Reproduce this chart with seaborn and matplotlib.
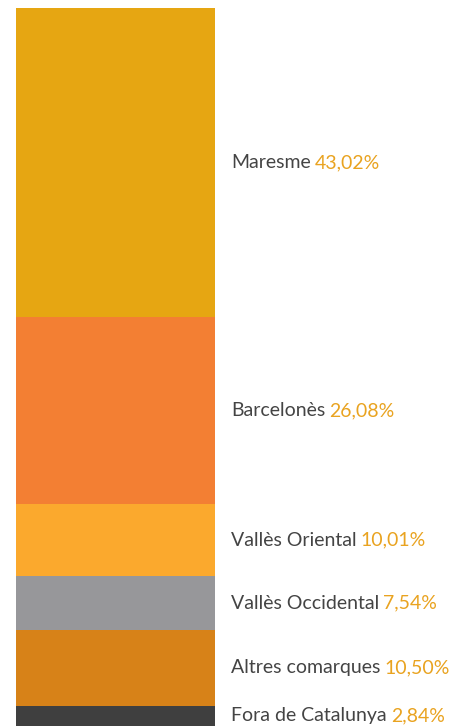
import seaborn as sns
import matplotlib.pyplot as plt
import numpy as np

# Dades: origen per comarques (percentatges)
comarques = ["Maresme", "Barcelonès", "Vallès Oriental", "Vallès Occidental",
             "Altres comarques", "Fora de Catalunya"]
percentatges = [43.02, 26.08, 10.01, 7.54, 10.50, 2.84]
colors = ["#E6A612", "#F37F33", "#FBA92D", "#97979A", "#D78218", "#3F3F3F"]

sns.set_style("white")
plt.rcParams['font.family'] = ['Lato', 'DejaVu Sans']

fig = plt.figure(figsize=(4.66, 7.26), dpi=100)
ax = fig.add_axes([16 / 466, 0, (215 - 16) / 466, (726 - 8) / 726])

acum = np.cumsum(percentatges)
total = acum[-1]

# Barra apilada: es dibuixen les sumes acumulades de la més gran a la més petita
for i in range(len(comarques) - 1, -1, -1):
    sns.barplot(x=["total"], y=[acum[i]], color=colors[i], width=1.0,
                saturation=1, ax=ax, edgecolor="none")

ax.set_xlim(-0.5, 0.5)
ax.set_ylim(total, 0)
ax.axis("off")

# Etiquetes
trans = ax.get_yaxis_transform()
x_txt = (231 - 16) / (215 - 16)
inici = np.concatenate([[0], acum[:-1]])
for nom, p, a, b in zip(comarques, percentatges, inici, acum):
    t = ax.text(x_txt, (a + b) / 2, nom, transform=trans, color="#444444",
                fontsize=14, va="center", ha="left", clip_on=False)
    ax.annotate(f"{p:.2f}%".replace(".", ","), xy=(1, 0), xycoords=t,
                xytext=(3, 0), textcoords="offset points",
                color="#E9A320", fontsize=14, va="bottom", ha="left")

plt.savefig("out.png", dpi=100)
